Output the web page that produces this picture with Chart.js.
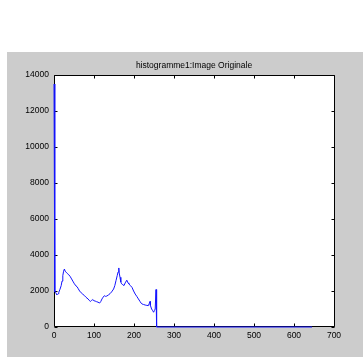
<!DOCTYPE html>
<html><head><meta charset="utf-8">
<script src="https://cdn.jsdelivr.net/npm/chart.js@4/dist/chart.umd.min.js"></script>
<style>html,body{margin:0;padding:0;background:#fff;}canvas{display:block;}</style>
</head><body>
<canvas id="c" width="363" height="357"></canvas>
<script>
const titleText = 'histogramme1:Image Originale';
const grayLevels = [0,2,4,7,10,12,15,18,20,22,24,26,28,30,33,37,40,44,47,51,55,58,60,64,68,72,76,80,85,88,91,94,97,100,103,106,110,114,117,120,123,126,129,132,136,140,144,149,152,155,158,160,162,163,165,167,169,172,175,178,182,185,187,191,195,199,203,207,211,215,218,220,224,228,232,236,238,240,241,244,247,249,251,253,255,256,257,645];
const counts = [13500,1950,1930,1780,1850,1930,2100,2300,2550,2850,3100,3220,3100,3050,2980,2900,2820,2670,2550,2400,2280,2230,2150,2000,1900,1820,1750,1650,1560,1480,1420,1480,1520,1460,1440,1410,1380,1330,1420,1560,1660,1740,1700,1720,1780,1850,1950,2110,2300,2580,2850,3050,3280,3000,2760,2500,2400,2350,2300,2450,2600,2450,2400,2300,2200,2000,1830,1700,1560,1420,1320,1280,1250,1220,1200,1190,1300,1420,1200,1000,900,820,910,1000,2080,700,0,0];
const xTicks = [0,100,200,300,400,500,600,700];
const yTicks = [0,2000,4000,6000,8000,10000,12000,14000];

const points = grayLevels.map((x, i) => ({x: x, y: counts[i]}));
const FONT = {family: '"Liberation Sans", Arial, sans-serif', size: 8.5};

const matlabFrame = {
  id: 'matlabFrame',
  afterLayout(chart) {
    const t = chart.titleBlock, a = chart.chartArea;
    if (t) { t.left = a.left; t.right = a.right; t.width = a.right - a.left; }
  },
  beforeDraw(chart) {
    const ctx = chart.ctx, a = chart.chartArea;
    ctx.save();
    ctx.fillStyle = '#ffffff'; ctx.fillRect(0, 0, chart.width, chart.height);
    ctx.fillStyle = '#cccccc'; ctx.fillRect(7, 52, chart.width - 7, chart.height - 52);
    ctx.fillStyle = '#ffffff'; ctx.fillRect(a.left, a.top, a.right - a.left, a.bottom - a.top);
    ctx.restore();
  },
  beforeDatasetsDraw(chart) {
    const ctx = chart.ctx, a = chart.chartArea, xs = chart.scales.x, ys = chart.scales.y;
    const L = a.left + 0.5, R = a.right + 0.5, T = a.top + 0.5, B = a.bottom - 0.5;
    ctx.save();
    ctx.strokeStyle = '#000'; ctx.lineWidth = 1;
    ctx.beginPath();
    ctx.moveTo(L, T); ctx.lineTo(R, T); ctx.lineTo(R, B); ctx.lineTo(L, B); ctx.closePath();
    const tl = 3;
    xTicks.forEach(v => {
      const px = Math.round(xs.getPixelForValue(v)) + 0.5;
      ctx.moveTo(px, B); ctx.lineTo(px, B - tl);
      ctx.moveTo(px, T); ctx.lineTo(px, T + tl);
    });
    yTicks.forEach(v => {
      const py = Math.round(ys.getPixelForValue(v)) + 0.5;
      ctx.moveTo(L, py); ctx.lineTo(L + tl, py);
      ctx.moveTo(R, py); ctx.lineTo(R - tl, py);
    });
    ctx.stroke();
    ctx.restore();
  }
};

new Chart(document.getElementById('c'), {
  type: 'line',
  data: {
    datasets: [{
      data: points,
      borderColor: 'rgb(20,20,255)',
      borderWidth: 1,
      pointRadius: 0,
      tension: 0,
      fill: false,
      clip: false
    }]
  },
  options: {
    responsive: false,
    animation: false,
    devicePixelRatio: 1,
    layout: {padding: {top: 55, left: 0, right: 29, bottom: 0}},
    plugins: {
      legend: {display: false},
      tooltip: {enabled: false},
      title: {
        display: true,
        text: titleText,
        color: '#000',
        font: {family: FONT.family, size: 8.5, weight: 'normal', lineHeight: 1.2},
        padding: {top: 6, bottom: 3.8}
      }
    },
    scales: {
      x: {
        type: 'linear',
        min: 0, max: 700,
        grid: {display: false, drawTicks: false},
        border: {display: false},
        afterBuildTicks: s => { s.ticks = xTicks.map(v => ({value: v})); },
        afterFit: s => { s.height = 30; },
        ticks: {color: '#000', font: FONT, padding: 4, maxRotation: 0, callback: v => String(v)}
      },
      y: {
        min: 0, max: 14000,
        grid: {display: false, drawTicks: false},
        border: {display: false},
        afterBuildTicks: s => { s.ticks = yTicks.map(v => ({value: v})); },
        afterFit: s => { s.width = 54; },
        ticks: {color: '#000', font: FONT, padding: 5, callback: v => String(v)}
      }
    }
  },
  plugins: [matlabFrame]
});
</script>
</body></html>
